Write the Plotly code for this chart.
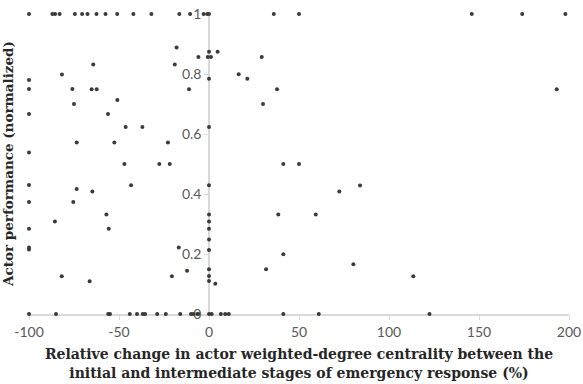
import plotly.graph_objects as go

# Points at performance = 1
x_top = [-100, -87, -85.5, -83, -74.5, -70.5, -67.5, -62.5, -57.5, -51, -42, -32,
         -16.5, -10.5, -3, -1, 0, 36, 50, 146, 174, 198]
y_top = [1.0] * len(x_top)

# Points at performance = 0
x_zero = [-100, -85, -56, -55, -44, -40, -36.8, -35.5, -28.8, -24, -16, -10, -8.7,
          -6.5, -6, 0, 1.5, 6.6, 9, 11, 41.3, 61, 122.5]
y_zero = [0.0] * len(x_zero)

# Intermediate points
x_mid = [-64.3, -81.7, -100, -100, -75.9, -65.2, -62.4, -50.9, -75, -100, -56.1, -46.3,
         -37, -73.5, -52.6, -100, -47, -100, -43.3, -73.5, -64.8, -75.4, -100, -57,
         -85.6, -55.7, -100, -100, -100, -81.8, -66.3,
         -18, 0, 4.8, -5.9, -0.7, 1.1, 29.3, -19, 16.5, 21.3, 0, -11.1, 37.8, 30, 0,
         -22.8, -27.6, -21.8, 41.3, 50,
         0, 38.5, 0, 0, 0, 0, -16.8, 0, 41.3, 0, -12.2, 31.7, 0, -20.6, 0, 3.5,
         72.4, 83.9, 59.3, 80.2, 113.5, 193.2]
y_mid = [0.832, 0.798, 0.78, 0.75, 0.75, 0.749, 0.749, 0.713, 0.70, 0.667, 0.667, 0.623,
         0.623, 0.572, 0.572, 0.538, 0.5, 0.43, 0.429, 0.417, 0.408, 0.373, 0.373, 0.332,
         0.308, 0.284, 0.284, 0.222, 0.215, 0.126, 0.109,
         0.888, 0.874, 0.874, 0.857, 0.857, 0.857, 0.857, 0.832, 0.799, 0.784, 0.784, 0.749, 0.749, 0.70, 0.623,
         0.572, 0.5, 0.5, 0.5, 0.5,
         0.429, 0.332, 0.332, 0.308, 0.284, 0.248, 0.222, 0.213, 0.199, 0.149, 0.144, 0.149, 0.127, 0.126, 0.11, 0.101,
         0.408, 0.428, 0.332, 0.166, 0.126, 0.749]

x_all = x_top + x_mid + x_zero
y_all = y_top + y_mid + y_zero

x_tick_vals = [-100, -50, 0, 50, 100, 150, 200]
x_tick_text = ["-100", "-50", "0", "50", "100", "150", "200"]
y_tick_vals = [0, 0.2, 0.4, 0.6, 0.8, 1]
y_tick_text = ["0", "0.2", "0.4", "0.6", "0.8", "1"]

x_title = ("Relative change in actor weighted-degree centrality between the<br>"
           "initial and intermediate stages of emergency response (%)")
y_title = "Actor performance (normalized)"

fig = go.Figure(go.Scatter(
    x=x_all, y=y_all, mode="markers",
    marker=dict(color="#3a3a3a", size=4),
    cliponaxis=False, showlegend=False,
))

tick_font = dict(family="Lato, Open Sans, sans-serif", size=14, color="#595959")
title_font = dict(family="DejaVu Serif, serif", size=14, color="#262626")
ytitle_font = dict(family="DejaVu Serif, serif", size=13.5, color="#262626")

fig.update_layout(
    width=583, height=384,
    margin=dict(l=29, r=14, t=14, b=70),
    paper_bgcolor="white", plot_bgcolor="white",
    xaxis=dict(
        range=[-100, 200], tickvals=x_tick_vals, ticktext=x_tick_text,
        showgrid=False, zeroline=False, automargin=False, layer="below traces",
        showline=True, linecolor="#d9d9d9", linewidth=1.5,
        ticks="outside", ticklen=4, tickcolor="#d9d9d9",
        tickfont=tick_font,
        title=dict(text="<b>" + x_title + "</b>", font=title_font, standoff=11),
    ),
    yaxis=dict(
        range=[0, 1], tickvals=y_tick_vals, ticktext=y_tick_text,
        anchor="free", position=1/3, automargin=False, layer="below traces",
        showgrid=False, zeroline=False,
        showline=True, linecolor="#d9d9d9", linewidth=1.5,
        ticks="outside", ticklen=4, tickcolor="#d9d9d9",
        tickfont=tick_font,
    ),
    annotations=[dict(
        text="<b>" + y_title + "</b>", textangle=-90,
        x=-0.039, y=0.5, xref="paper", yref="paper",
        xanchor="center", yanchor="middle", showarrow=False,
        font=ytitle_font,
    )],
)

fig.write_html("out.html",
               config={"displayModeBar": False},
               post_script="document.body.style.margin='0';document.body.style.overflow='hidden';")
